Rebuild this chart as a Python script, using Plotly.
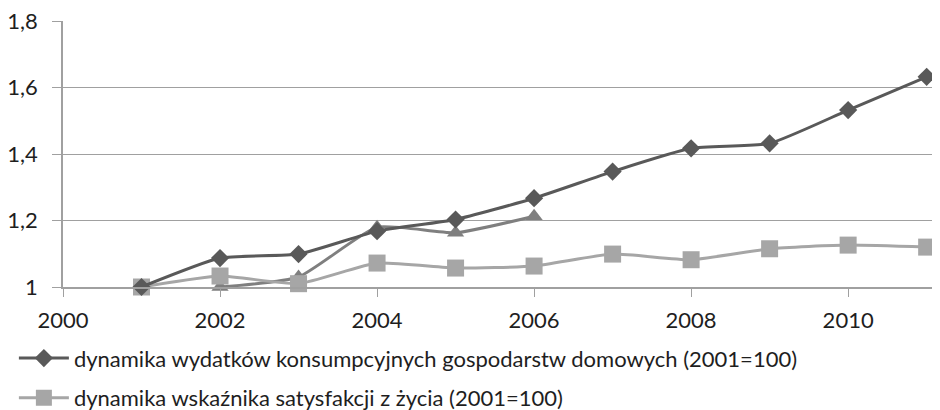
import plotly.graph_objects as go

years = [2001, 2002, 2003, 2004, 2005, 2006, 2007, 2008, 2009, 2010, 2011]
wydatki = [1.0, 1.087, 1.099, 1.168, 1.203, 1.267, 1.347, 1.417, 1.432, 1.532, 1.632]
satysfakcja = [1.0, 1.033, 1.01, 1.072, 1.057, 1.063, 1.099, 1.082, 1.115, 1.126, 1.12]
years_tri = [2002, 2003, 2004, 2005, 2006]
trzecia = [1.0, 1.03, 1.18, 1.163, 1.213]

name1 = "dynamika wydatków konsumpcyjnych gospodarstw domowych (2001=100)"
name2 = "dynamika wskaźnika satysfakcji z życia (2001=100)"

ytickvals = [1.0, 1.2, 1.4, 1.6, 1.8]
yticktext = ["1", "1,2", "1,4", "1,6", "1,8"]
xtickvals = [2000, 2002, 2004, 2006, 2008, 2010]

FONT = "Lato"
TXT = "#1e1e1e"
fig = go.Figure()
fig.add_trace(go.Scatter(x=years_tri, y=trzecia, mode="lines+markers", showlegend=False,
                         line=dict(color="#7f7f7f", width=3, shape="spline", smoothing=0.5),
                         marker=dict(symbol="triangle-up", size=15, color="#7f7f7f"),
                         cliponaxis=False))
fig.add_trace(go.Scatter(x=years, y=satysfakcja, mode="lines+markers", name=name2, legendrank=2,
                         legendgroup="b",
                         line=dict(color="#a6a6a6", width=3, shape="spline", smoothing=0.5),
                         marker=dict(symbol="square", size=17, color="#a6a6a6"),
                         cliponaxis=False))
fig.add_trace(go.Scatter(x=years, y=wydatki, mode="lines+markers", name=name1, legendrank=1,
                         legendgroup="a",
                         line=dict(color="#595959", width=3, shape="spline", smoothing=0.5),
                         marker=dict(symbol="diamond", size=14, color="#595959"),
                         cliponaxis=False))

fig.update_layout(
    width=932, height=402,
    margin=dict(l=55, r=0, t=13, b=123, autoexpand=False),
    paper_bgcolor="white", plot_bgcolor="white",
    font=dict(family=FONT, size=22, color=TXT),
    showlegend=True,
    legend=dict(x=-0.056, xanchor="left", y=-0.189, yanchor="top",
                orientation="v", tracegroupgap=8, itemwidth=50,
                font=dict(family=FONT, size=22, color=TXT),
                bgcolor="rgba(0,0,0,0)"),
    xaxis=dict(range=[2000, 2011.17], tickvals=xtickvals, showgrid=False,
               showline=True, linecolor="#a0a0a0", linewidth=1.5,
               ticks="outside", ticklen=8, tickcolor="#a0a0a0", zeroline=False,
               tickfont=dict(size=22), ticklabelstandoff=5, automargin=False,
               ticklabeloverflow="allow"),
    yaxis=dict(range=[1.0, 1.8], tickvals=ytickvals, ticktext=yticktext,
               showgrid=True, gridcolor="#a0a0a0", gridwidth=1.2,
               showline=True, linecolor="#a0a0a0", linewidth=1.5,
               ticks="outside", ticklen=9, tickcolor="#a0a0a0", zeroline=False,
               tickfont=dict(size=22), ticklabelstandoff=10, automargin=False,
               ticklabeloverflow="allow"),
)

fig.write_html("out.html")
